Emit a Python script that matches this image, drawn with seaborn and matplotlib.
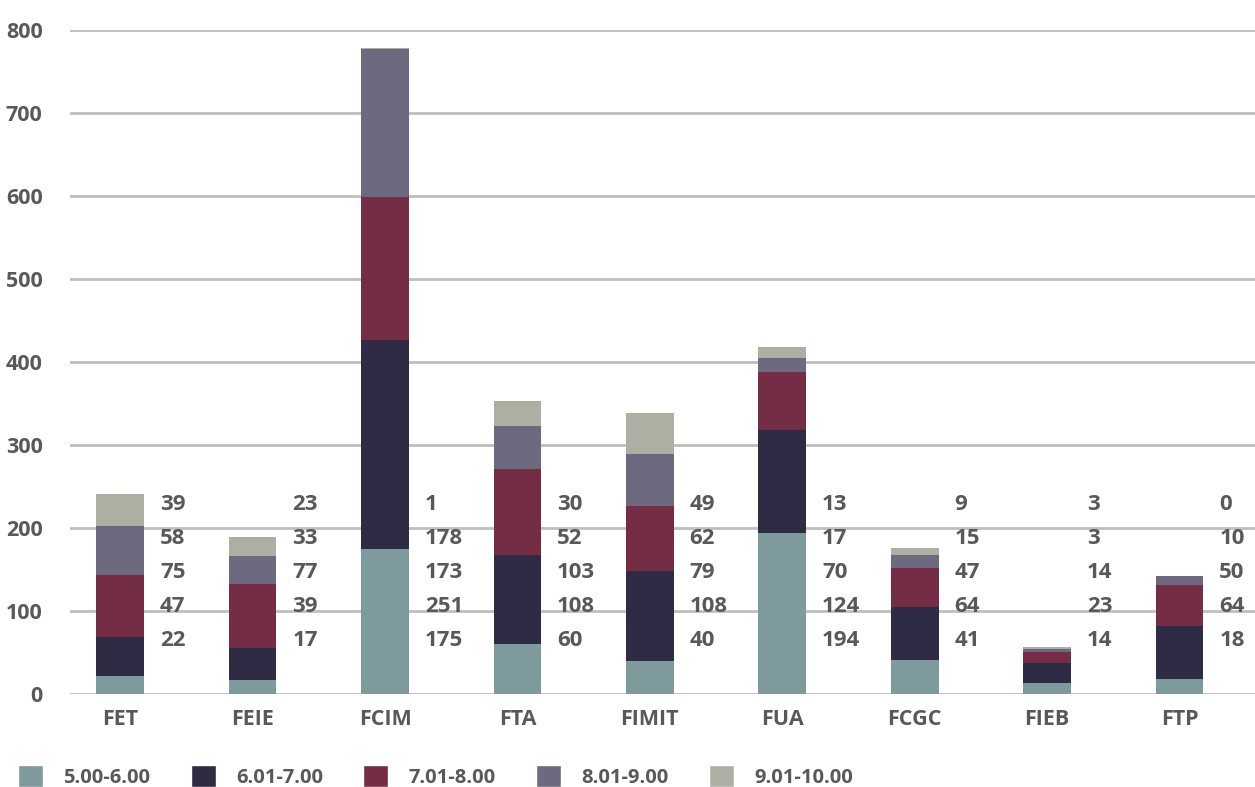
import numpy as np
import pandas as pd
import matplotlib
matplotlib.use("Agg")
import matplotlib.pyplot as plt
import seaborn as sns
from matplotlib.patches import Patch

# faculties and grade bands
faculties = ["FET", "FEIE", "FCIM", "FTA", "FIMIT", "FUA", "FCGC", "FIEB", "FTP"]
bands = ["5.00-6.00", "6.01-7.00", "7.01-8.00", "8.01-9.00", "9.01-10.00"]

g5_6 = [22, 17, 175, 60, 40, 194, 41, 14, 18]
g6_7 = [47, 39, 251, 108, 108, 124, 64, 23, 64]
g7_8 = [75, 77, 173, 103, 79, 70, 47, 14, 50]
g8_9 = [58, 33, 178, 52, 62, 17, 15, 3, 10]
g9_10 = [39, 23, 1, 30, 49, 13, 9, 3, 0]

colors = ["#7E9A9D", "#2E2C44", "#742D45", "#6D6A7F", "#AEAFA2"]
text_col = "#595959"

sns.set_theme(style="white")
plt.rcParams["font.family"] = ["Open Sans", "DejaVu Sans"]

df = pd.DataFrame({"faculty": faculties, bands[0]: g5_6, bands[1]: g6_7,
                   bands[2]: g7_8, bands[3]: g8_9, bands[4]: g9_10})
cum = df[bands].cumsum(axis=1)

fig = plt.figure(figsize=(12.55, 7.87), dpi=100)
ax = fig.add_axes([0.056, 0.118, 0.944, 0.844])

# stacked bars: draw cumulative totals from top band downwards
for band, col in reversed(list(zip(bands, colors))):
    sns.barplot(x=df["faculty"], y=cum[band], color=col, width=0.36,
                saturation=1, order=faculties, ax=ax, zorder=3,
                linewidth=0, edgecolor="none")

# value table to the right of each bar (top row = highest band)
row_y = [65, 106, 146, 187, 228]
for i, fac in enumerate(faculties):
    for j, band in enumerate(bands):
        ax.text(i + 0.3, row_y[j], str(df.loc[i, band]), ha="left", va="center",
                fontsize=16, fontweight="bold", color=text_col, zorder=4)

ax.set_ylim(0, 800)
ax.set_xlim(-0.377, 8.57)
ax.set_yticks(range(0, 801, 100))
ax.yaxis.grid(True, color="#BFBFBF", linewidth=2)
ax.set_axisbelow(True)
for s in ax.spines.values():
    s.set_visible(False)
ax.set_xlabel("")
ax.set_ylabel("")
ax.tick_params(axis="both", length=0, labelsize=15.5, labelcolor=text_col)
ax.tick_params(axis="y", pad=20)
ax.tick_params(axis="x", pad=11)
for lab in ax.get_xticklabels() + ax.get_yticklabels():
    lab.set_fontweight("bold")

handles = [Patch(facecolor=c, label=b) for b, c in zip(bands, colors)]
leg = fig.legend(handles=handles, loc="lower left", bbox_to_anchor=(0.0, -0.024),
                 ncol=5, frameon=False, fontsize=14.5, handlelength=1.25,
                 handleheight=1.25, columnspacing=2.0, handletextpad=1.0)
for t in leg.get_texts():
    t.set_color(text_col)
    t.set_fontweight("bold")

fig.savefig("out.png", dpi=100)
